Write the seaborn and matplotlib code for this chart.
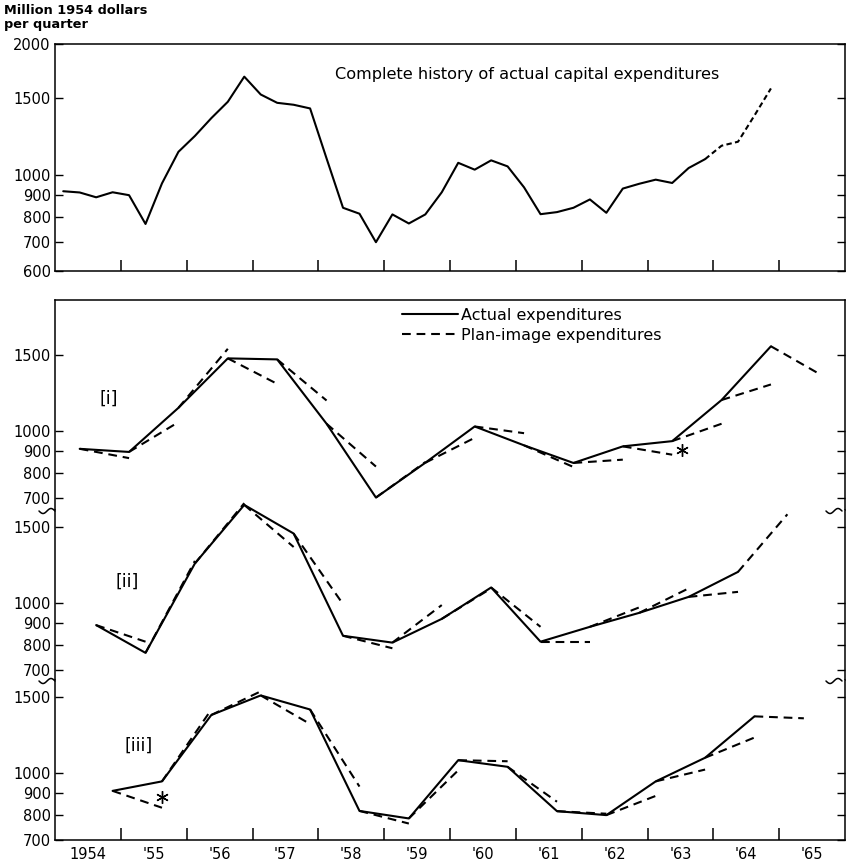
import numpy as np
import pandas as pd
import matplotlib
matplotlib.use("Agg")
import matplotlib.pyplot as plt
import seaborn as sns
from matplotlib.lines import Line2D
from matplotlib.ticker import FixedLocator, FixedFormatter, NullLocator, NullFormatter

# ---------------- data (million 1954 dollars per quarter) ----------------
first_quarter = "1954Q1"
# complete quarterly history 1954Q1 .. 1964Q4
history_values = [916, 910, 887, 911, 897, 770, 955, 1129, 1228, 1350, 1472, 1682,
                  1530, 1464, 1449, 1421, 1090, 839, 813, 699, 810, 772, 810, 911,
                  1065, 1027, 1079, 1045, 935, 811, 820, 839, 877, 817, 929, 953,
                  974, 957, 1036, 1086, 1166, 1191, 1369, 1580]
history_dashed_from = 39          # quarter index from which the history is dashed

step_quarters = 3                 # actual points every third quarter
plan_horizon = 3                  # plan-image looks three quarters ahead

panel_i_start = 1
panel_i_actual = [910, 895, 1132, 1473, 1465, 1040, 702, 845, 1025, 927, 844, 922, 948, 1180, 1571]
panel_i_plan = [866, 1049, 1550, 1286, 1177, 828, 848, 965, 989, 826, 859, 882, 1040, 1282, 1352]

panel_ii_start = 2
panel_ii_actual = [888, 766, 1233, 1684, 1446, 839, 809, 918, 1085, 813, 880, 948, 1032, 1179]
panel_ii_plan = [813, 1250, 1700, 1346, 993, 785, 988, 1080, 880, 813, 976, 1080, 1060, 1602]

panel_iii_start = 3
panel_iii_actual = [909, 956, 1361, 1510, 1401, 817, 785, 1070, 1033, 816, 799, 956, 1084, 1351]
panel_iii_plan = [831, 1401, 1543, 1297, 930, 764, 1014, 1064, 858, 805, 885, 1018, 1207, 1337]

panel_labels = ["[i]", "[ii]", "[iii]"]
asterisk_i = (1963.53, 906)
asterisk_iii = (1955.63, 879)

year_labels = ["1954", "'55", "'56", "'57", "'58", "'59", "'60", "'61", "'62", "'63", "'64", "'65"]
top_yticks = [600, 700, 800, 900, 1000, 1500, 2000]
low_yticks = [700, 800, 900, 1000, 1500]

# ---------------- helpers ----------------
periods = pd.period_range(first_quarter, periods=60, freq="Q")
qtime = np.array([p.year + (p.quarter - 0.5) / 4 for p in periods])

sns.set_style("ticks")
plt.rcParams["font.family"] = ["DejaVu Sans"]
plt.rcParams["axes.linewidth"] = 1.1
for key in ["text.color", "xtick.color", "ytick.color", "axes.labelcolor", "axes.edgecolor"]:
    plt.rcParams[key] = "black"

W, H = 846, 865
fig = plt.figure(figsize=(W / 100, H / 100), dpi=100)


def rect(x0, y0, x1, y1):
    return [x0 / W, 1 - y1 / H, (x1 - x0) / W, (y1 - y0) / H]


ax_top = fig.add_axes(rect(55, 44, 845, 271))
ax1 = fig.add_axes(rect(55, 300, 845, 510))
ax2 = fig.add_axes(rect(55, 510, 845, 680))
ax3 = fig.add_axes(rect(55, 680, 845, 840))

LW = 1.5
DASH = (0, (4.2, 2.8))

# ---------------- top panel ----------------
hist = pd.DataFrame({"t": qtime[:len(history_values)], "v": history_values})
sns.lineplot(data=hist.iloc[:history_dashed_from + 1], x="t", y="v", ax=ax_top,
             color="black", lw=LW, estimator=None)
sns.lineplot(data=hist.iloc[history_dashed_from:], x="t", y="v", ax=ax_top,
             color="black", lw=LW, estimator=None, linestyle=(0, (2.6, 1.6)))
ax_top.text(0.354, 0.865, "Complete history of actual capital expenditures",
            transform=ax_top.transAxes, fontsize=11.6, ha="left", va="center")


# ---------------- lower panels ----------------
def draw_panel(ax, start, actual, plan):
    idx = start + step_quarters * np.arange(len(actual))
    act = pd.DataFrame({"t": qtime[idx], "v": actual})
    sns.lineplot(data=act, x="t", y="v", ax=ax, color="black", lw=LW,
                 estimator=None, clip_on=False)
    rows = []
    for j, (a, p) in enumerate(zip(actual, plan)):
        rows.append({"seg": j, "t": qtime[idx[j]], "v": a})
        rows.append({"seg": j, "t": qtime[idx[j] + plan_horizon], "v": p})
    seg = pd.DataFrame(rows)
    sns.lineplot(data=seg, x="t", y="v", units="seg", estimator=None, ax=ax,
                 color="black", lw=LW, linestyle=DASH, clip_on=False)


draw_panel(ax1, panel_i_start, panel_i_actual, panel_i_plan)
draw_panel(ax2, panel_ii_start, panel_ii_actual, panel_ii_plan)
draw_panel(ax3, panel_iii_start, panel_iii_actual, panel_iii_plan)

for ax, lab, pos in zip([ax1, ax2, ax3], panel_labels,
                        [(1954.82, 1188), (1955.09, 1118), (1955.27, 1154)]):
    ax.text(pos[0], pos[1], lab, fontsize=12.5, ha="center", va="center")

for ax, (x, y) in [(ax1, asterisk_i), (ax3, asterisk_iii)]:
    ax.plot([x], [y], marker=(6, 2, 0), markersize=9, mew=1.0, color="black", ls="none")

# ---------------- axes formatting ----------------
ylims = {ax_top: (600, 2000), ax1: (657, 2010), ax2: (663, 1639), ax3: (700, 1639)}
for ax in [ax_top, ax1, ax2, ax3]:
    ax.set_yscale("log")
    ax.set_xlim(1954, 1966)
    ax.set_ylim(*ylims[ax])
    ax.set_xlabel("")
    ax.set_ylabel("")
    ticks = top_yticks if ax is ax_top else low_yticks
    ax.yaxis.set_major_locator(FixedLocator(ticks))
    ax.yaxis.set_major_formatter(FixedFormatter([str(t) for t in ticks]))
    ax.yaxis.set_minor_locator(NullLocator())
    ax.yaxis.set_minor_formatter(NullFormatter())
    ax.tick_params(axis="y", which="major", direction="in", length=6, width=1.0,
                   left=True, right=True, labelleft=True, labelright=False,
                   labelsize=10.5, pad=3)
    ax.xaxis.set_major_locator(FixedLocator(np.arange(1955, 1966)))
    ax.xaxis.set_major_formatter(NullFormatter())
    ax.xaxis.set_minor_locator(NullLocator())
    for s in ax.spines.values():
        s.set_linewidth(1.1)
        s.set_color("black")

ax_top.tick_params(axis="x", which="major", direction="in", length=8, width=1.1,
                   bottom=True, top=False)
for ax in [ax1, ax2]:
    ax.tick_params(axis="x", which="both", bottom=False, top=False)
ax1.spines["bottom"].set_visible(False)
ax2.spines["top"].set_visible(False)
ax2.spines["bottom"].set_visible(False)
ax3.spines["top"].set_visible(False)
ax3.tick_params(axis="x", which="major", direction="in", length=9, width=1.1,
                bottom=True, top=False)
ax3.xaxis.set_minor_locator(FixedLocator(np.arange(1954, 1966) + 0.5))
ax3.xaxis.set_minor_formatter(FixedFormatter(year_labels))
ax3.tick_params(axis="x", which="minor", length=0, labelsize=10.5, pad=5)

# legend
handles = [Line2D([], [], color="black", lw=LW),
           Line2D([], [], color="black", lw=LW, linestyle=DASH)]
leg = fig.legend(handles, ["Actual expenditures", "Plan-image expenditures"],
                 loc="upper left", bbox_to_anchor=(402 / W, 1 - 308 / H),
                 frameon=False, fontsize=11.5, handlelength=3.5, handletextpad=0.2,
                 labelspacing=0.3, borderpad=0, borderaxespad=0)

# unit label
fig.text(4 / W, 1 - 4 / H, "Million 1954 dollars\nper quarter", fontsize=9.3,
         fontweight="bold", ha="left", va="top", linespacing=1.1)


# scale-break marks
def tilde(xc, yc, w=16, a=2.5):
    s = np.linspace(-1, 1, 40)
    px = xc + s * w / 2
    py = yc - a * np.sin(s * np.pi)
    fig.add_artist(Line2D(px / W, 1 - py / H, transform=fig.transFigure,
                          color="black", lw=1.1))


for yb in (511, 681):
    tilde(47, yb)
    tilde(834, yb)

fig.savefig("out.png", dpi=100)
